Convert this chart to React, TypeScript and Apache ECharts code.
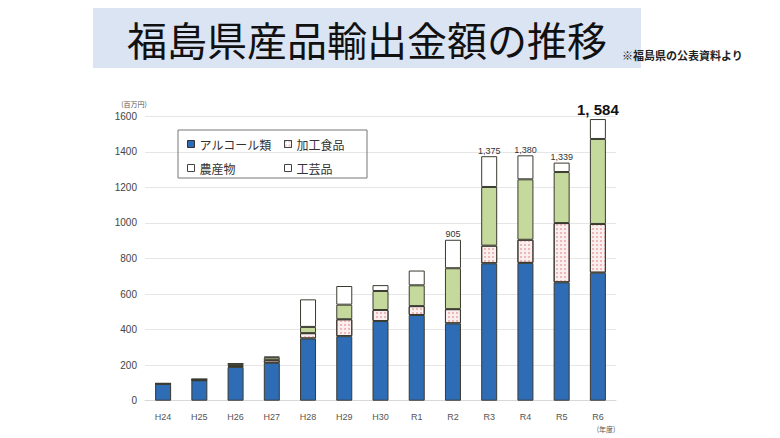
import React, { useEffect, useRef } from "react";
import * as echarts from "echarts";

const categories = ["H24", "H25", "H26", "H27", "H28", "H29", "H30", "R1", "R2", "R3", "R4", "R5", "R6"];
const alcohol = [95, 115, 190, 213, 350, 363, 448, 482, 435, 773, 775, 666, 720];
const processedFood = [1, 2, 5, 15, 30, 95, 62, 50, 80, 99, 130, 333, 274];
const agriculture = [1, 4, 12, 15, 35, 82, 107, 117, 230, 330, 340, 287, 478];
const crafts = [1, 1, 3, 5, 155, 105, 33, 83, 160, 173, 135, 53, 112];
const totalLabels = ["", "", "", "", "", "", "", "", "905", "1,375", "1,380", "1,339", "1, 584"];
const yTicks = [0, 200, 400, 600, 800, 1000, 1200, 1400, 1600];

const JP = "'Noto Sans CJK JP', 'Noto Sans', sans-serif";
const LAT = "'Liberation Sans', Arial, sans-serif";

export default function App() {
  const ref = useRef<HTMLDivElement>(null);
  useEffect(() => {
    if (!ref.current) return;
    const chart = echarts.init(ref.current, null, { renderer: "svg" });
    const border = { borderColor: "#3a3a30", borderWidth: 1 };
    const lastIdx = categories.length - 1;
    chart.setOption({
      animation: false,
      backgroundColor: "#ffffff",
      grid: { left: 145, top: 116.2, width: 471, height: 284.5, containLabel: false },
      xAxis: {
        type: "category",
        data: categories,
        axisLine: { show: true, lineStyle: { color: "#d8d8d8" } },
        axisTick: { show: false },
        axisLabel: { color: "#555", fontSize: 9, margin: 12, fontFamily: LAT },
      },
      yAxis: {
        type: "value",
        min: yTicks[0],
        max: yTicks[yTicks.length - 1],
        interval: 200,
        axisLine: { show: false },
        axisTick: { show: false },
        splitLine: { lineStyle: { color: "#e6e6e6" } },
        axisLabel: { color: "#444", fontSize: 10, margin: 8, fontFamily: LAT, formatter: (v: number) => String(v) },
      },
      legend: [
        {
          orient: "vertical",
          left: 182,
          top: 133,
          itemWidth: 7,
          itemHeight: 7,
          itemGap: 12,
          icon: "rect",
          selectedMode: false,
          textStyle: { fontSize: 12, color: "#333", fontFamily: JP },
          data: [
            { name: "アルコール類", itemStyle: { color: "#2e6cb5", borderColor: "#333", borderWidth: 1 } },
            { name: "農産物", itemStyle: { color: "#fff", borderColor: "#444", borderWidth: 1 } },
          ],
        },
        {
          orient: "vertical",
          left: 279,
          top: 133,
          itemWidth: 7,
          itemHeight: 7,
          itemGap: 12,
          icon: "rect",
          selectedMode: false,
          textStyle: { fontSize: 12, color: "#333", fontFamily: JP },
          data: [
            { name: "加工食品", itemStyle: { color: "#fff", borderColor: "#444", borderWidth: 1 } },
            { name: "工芸品", itemStyle: { color: "#fff", borderColor: "#444", borderWidth: 1 } },
          ],
        },
      ],
      series: [
        {
          name: "アルコール類",
          type: "bar",
          stack: "total",
          barWidth: 16,
          data: alcohol,
          itemStyle: { color: "#2e6cb5", ...border },
        },
        {
          name: "加工食品",
          type: "bar",
          stack: "total",
          barWidth: 16,
          data: processedFood,
          itemStyle: {
            color: "#fbeeee",
            ...border,
            decal: {
              symbol: "rect",
              symbolSize: 1,
              color: "rgba(225,140,140,0.55)",
              dashArrayX: [2, 2],
              dashArrayY: [2, 2],
              rotation: 0,
            },
          },
        },
        {
          name: "農産物",
          type: "bar",
          stack: "total",
          barWidth: 16,
          data: agriculture,
          itemStyle: { color: "#c6d99c", ...border },
        },
        {
          name: "工芸品",
          type: "bar",
          stack: "total",
          barWidth: 16,
          data: crafts.map((v, i) => ({
            value: v,
            label: {
              show: totalLabels[i] !== "",
              position: "top",
              distance: i === lastIdx ? 2 : 1,
              formatter: totalLabels[i],
              fontSize: i === lastIdx ? 15 : 9,
              fontWeight: i === lastIdx ? "bold" : "normal",
              color: i === lastIdx ? "#111" : "#333",
              fontFamily: LAT,
            },
          })),
          itemStyle: { color: "#ffffff", ...border },
        },
      ],
      graphic: [
        {
          type: "rect",
          shape: { x: 93, y: 8, width: 548, height: 60 },
          style: { fill: "#dbe4f3" },
          z: 0,
        },
        {
          type: "text",
          x: 367,
          y: 39,
          style: {
            text: "福島県産品輸出金額の推移",
            fontSize: 40,
            fontFamily: JP,
            fill: "#111",
            align: "center",
            verticalAlign: "middle",
          },
          z: 1,
        },
        {
          type: "text",
          x: 622,
          y: 55,
          style: {
            text: "※福島県の公表資料より",
            fontSize: 11,
            fontWeight: "bold",
            fontFamily: JP,
            fill: "#222",
            verticalAlign: "middle",
          },
          z: 1,
        },
        {
          type: "rect",
          shape: { x: 178, y: 130, width: 189, height: 48 },
          style: { fill: "none", stroke: "#777", lineWidth: 1 },
          z: 1,
        },
        {
          type: "text",
          x: 134,
          y: 104,
          style: { text: "(百万円)", fontSize: 7, fontFamily: JP, fill: "#555", align: "center", verticalAlign: "middle" },
        },
        {
          type: "text",
          x: 606,
          y: 429,
          style: { text: "(年度)", fontSize: 7, fontFamily: JP, fill: "#555", align: "center", verticalAlign: "middle" },
        },
      ],
    });
    return () => chart.dispose();
  }, []);
  return (
    <div
      ref={ref}
      style={{ position: "fixed", left: 0, top: 0, width: 780, height: 438, background: "#fff" }}
    />
  );
}
